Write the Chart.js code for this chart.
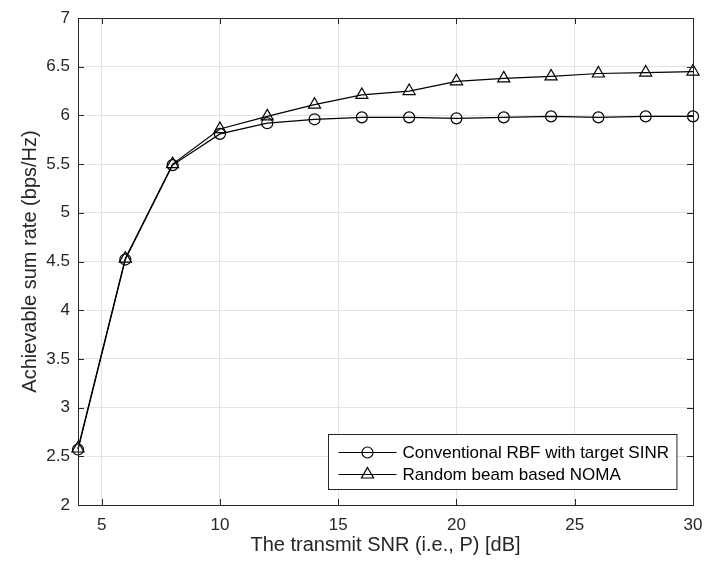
<!DOCTYPE html>
<html>
<head>
<meta charset="utf-8">
<script src="https://cdn.jsdelivr.net/npm/chart.js@4.4.0/dist/chart.umd.min.js"></script>
<style>
  html, body { margin: 0; padding: 0; background: #fff; }
  #wrap { width: 704px; height: 563px; }
</style>
</head>
<body>
<div id="wrap"><canvas id="rateChart" width="704" height="563"></canvas></div>
<script>
// transmit SNR points (dB)
const snr = [4, 6, 8, 10, 12, 14, 16, 18, 20, 22, 24, 26, 28, 30];
const rateRBF = [2.57, 4.52, 5.49, 5.81, 5.92, 5.96, 5.98, 5.98, 5.97, 5.98, 5.99, 5.98, 5.99, 5.99];
const rateNOMA = [2.58, 4.53, 5.50, 5.86, 5.99, 6.11, 6.21, 6.25, 6.35, 6.38, 6.40, 6.43, 6.44, 6.45];
const seriesLabels = ['Conventional RBF with target SINR', 'Random beam based NOMA'];
const xTicks = [5, 10, 15, 20, 25, 30];
const yTicks = [2, 2.5, 3, 3.5, 4, 4.5, 5, 5.5, 6, 6.5, 7];

const axisColor = '#262626';
const gridColor = '#e3e3e3';
const fontFamily = '"Liberation Sans", Arial, Helvetica, sans-serif';

// MATLAB-like box with inward ticks on every side
const boxPlugin = {
    id: 'boxPlugin',
    afterDatasetsDraw(chart) {
        const { ctx, chartArea: a, scales } = chart;
        const len = 6;
        ctx.save();
        ctx.strokeStyle = axisColor;
        ctx.lineWidth = 1;
        ctx.beginPath();
        xTicks.forEach(v => {
            const px = Math.round(scales.x.getPixelForValue(v)) + 0.5;
            ctx.moveTo(px, a.bottom); ctx.lineTo(px, a.bottom - len);
            ctx.moveTo(px, a.top); ctx.lineTo(px, a.top + len);
        });
        yTicks.forEach(v => {
            const py = Math.round(scales.y.getPixelForValue(v)) + 0.5;
            ctx.moveTo(a.left, py); ctx.lineTo(a.left + len, py);
            ctx.moveTo(a.right, py); ctx.lineTo(a.right - len, py);
        });
        ctx.stroke();
        ctx.strokeRect(Math.round(a.left) + 0.5, Math.round(a.top) + 0.5,
            Math.round(a.right - a.left), Math.round(a.bottom - a.top));
        ctx.restore();
    },
    afterDraw(chart) {
        // legend box in the lower right of the axes
        const { ctx, chartArea: a } = chart;
        const ds = chart.data.datasets;
        ctx.save();
        ctx.font = '17px ' + fontFamily;
        const textW = Math.max(...ds.map(d => ctx.measureText(d.label).width));
        const w = 10 + 58 + 6 + textW + 8;
        const h = 55;
        const x0 = Math.round(a.right - 17 - w) + 0.5;
        const y0 = Math.round(a.bottom - 16 - h) + 0.5;
        ctx.fillStyle = '#fff';
        ctx.fillRect(x0, y0, w, h);
        ctx.strokeStyle = axisColor;
        ctx.lineWidth = 1;
        ctx.strokeRect(x0, y0, w, h);
        ds.forEach((d, i) => {
            const cy = y0 + 18 + i * 22;
            const lx = x0 + 10;
            ctx.strokeStyle = '#000';
            ctx.lineWidth = 1.2;
            ctx.beginPath();
            ctx.moveTo(lx, cy); ctx.lineTo(lx + 58, cy);
            ctx.stroke();
            ctx.fillStyle = 'rgba(0,0,0,0)';
            Chart.helpers.drawPoint(ctx, {
                pointStyle: d.pointStyle, radius: d.pointRadius, borderWidth: 1.2, rotation: 0
            }, lx + 29, cy);
            ctx.fillStyle = '#000';
            ctx.textBaseline = 'middle';
            ctx.textAlign = 'left';
            ctx.fillText(d.label, lx + 64, cy + 1);
        });
        ctx.restore();
    }
};

new Chart(document.getElementById('rateChart').getContext('2d'), {
    type: 'line',
    data: {
        datasets: [
            {
                label: seriesLabels[0],
                data: snr.map((x, i) => ({ x, y: rateRBF[i] })),
                borderColor: '#000',
                backgroundColor: 'rgba(0,0,0,0)',
                borderWidth: 1.2,
                pointStyle: 'circle',
                pointRadius: 5.5,
                pointBorderWidth: 1.2,
                pointBorderColor: '#000',
                pointBackgroundColor: 'rgba(0,0,0,0)',
                tension: 0,
                clip: false
            },
            {
                label: seriesLabels[1],
                data: snr.map((x, i) => ({ x, y: rateNOMA[i] })),
                borderColor: '#000',
                backgroundColor: 'rgba(0,0,0,0)',
                borderWidth: 1.2,
                pointStyle: 'triangle',
                pointRadius: 7,
                pointBorderWidth: 1.2,
                pointBorderColor: '#000',
                pointBackgroundColor: 'rgba(0,0,0,0)',
                tension: 0,
                clip: false
            }
        ]
    },
    options: {
        responsive: false,
        animation: false,
        layout: { padding: { top: 18, right: 11, left: 0, bottom: 0 } },
        plugins: { legend: { display: false }, tooltip: { enabled: false } },
        scales: {
            x: {
                type: 'linear',
                min: 4,
                max: 30,
                afterBuildTicks: s => { s.ticks = xTicks.map(v => ({ value: v })); },
                afterFit: s => { s.height = 58; s.paddingLeft = 0; s.paddingRight = 0; },
                grid: { color: gridColor, drawTicks: false },
                border: { display: false },
                ticks: {
                    color: axisColor, padding: 10, maxRotation: 0,
                    font: { family: fontFamily, size: 17 }, callback: v => String(v)
                },
                title: {
                    display: true, text: 'The transmit SNR (i.e., P) [dB]', color: axisColor,
                    font: { family: fontFamily, size: 20 }, padding: { top: 0, bottom: 6 }
                }
            },
            y: {
                min: 2,
                max: 7,
                afterBuildTicks: s => { s.ticks = yTicks.map(v => ({ value: v })); },
                afterFit: s => { s.width = 78; s.paddingTop = 0; s.paddingBottom = 0; },
                grid: { color: gridColor, drawTicks: false },
                border: { display: false },
                ticks: {
                    color: axisColor, padding: 8,
                    font: { family: fontFamily, size: 17 }, callback: v => String(v)
                },
                title: {
                    display: true, text: 'Achievable sum rate (bps/Hz)', color: axisColor,
                    font: { family: fontFamily, size: 20 }, padding: { top: 18, bottom: 0 }
                }
            }
        }
    },
    plugins: [boxPlugin]
});
</script>
</body>
</html>
